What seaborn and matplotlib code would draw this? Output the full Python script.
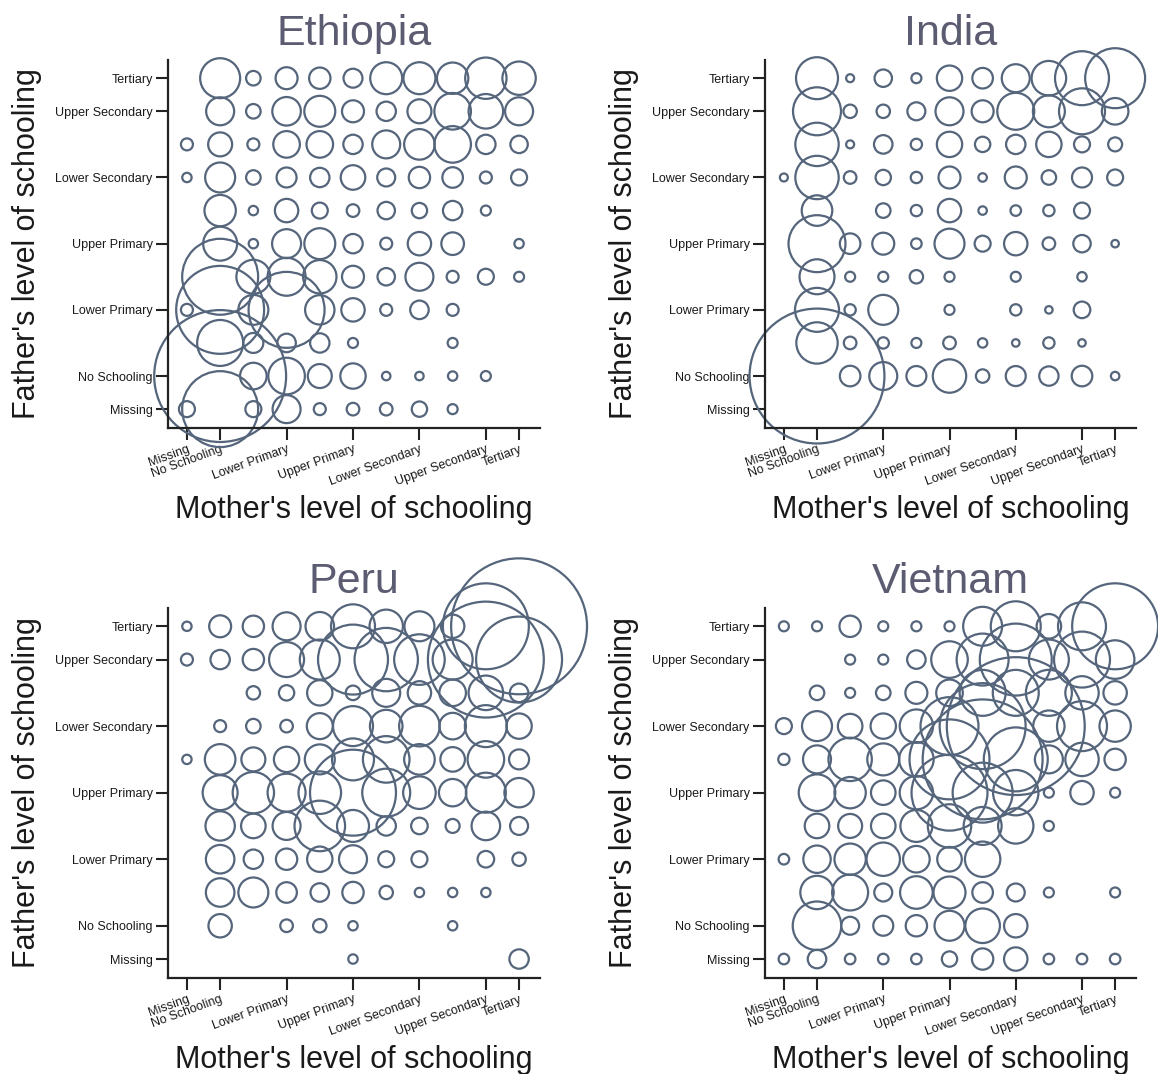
import matplotlib
matplotlib.use("Agg")
import matplotlib.pyplot as plt
import numpy as np
import pandas as pd
import seaborn as sns

# ---------------- data ----------------
levels = ["Missing", "No Schooling", "Lower Primary", "Upper Primary",
          "Lower Secondary", "Upper Secondary", "Tertiary"]
level_pos = [0, 1, 3, 5, 7, 9, 10]

countries = ["Ethiopia", "India", "Peru", "Vietnam"]

# share of children (relative, bubble area) ; rows: father's level from 10 (Tertiary) down to 0 (Missing)
# columns: mother's level 0 (Missing) .. 10 (Tertiary)
ethiopia = [
    [0, 4.00, 0.53, 1.21, 1.14, 0.90, 2.56, 2.56, 2.46, 4.28, 2.79],
    [0, 1.96, 0.53, 2.04, 2.40, 1.21, 0.94, 1.44, 3.35, 2.99, 1.96],
    [0.36, 1.44, 0.36, 1.77, 1.77, 0.94, 1.96, 2.34, 3.35, 0.94, 0.76],
    [0.22, 2.25, 0.53, 1.00, 0.94, 1.51, 0.81, 1.14, 1.06, 0.36, 0.64],
    [0, 2.46, 0.22, 1.37, 0.64, 0.40, 0.76, 0.59, 0.94, 0.25, 0],
    [0, 2.89, 0.22, 2.10, 2.40, 0.94, 0.36, 1.37, 1.28, 0, 0.22],
    [0, 14.44, 2.89, 3.61, 2.79, 1.21, 0.76, 1.96, 0.36, 0.64, 0.25],
    [0.36, 19.36, 2.25, 14.44, 2.16, 1.37, 0.36, 0.86, 0.36, 0, 0],
    [0, 5.29, 1.00, 0.86, 0.94, 0.25, 0, 0, 0.25, 0, 0],
    [0, 43.56, 1.77, 3.35, 1.44, 1.61, 0.18, 0.18, 0.22, 0.25, 0],
    [0.64, 14.44, 0.64, 1.96, 0.36, 0.40, 0.40, 0.59, 0.25, 0, 0],
]
india = [
    [0, 4.41, 0.16, 0.76, 0.25, 1.61, 1.06, 1.96, 2.99, 7.29, 9.00],
    [0, 5.76, 0.45, 0.45, 0.81, 1.96, 1.21, 3.42, 2.56, 5.29, 1.77],
    [0, 4.71, 0.16, 0.86, 0.32, 1.61, 0.59, 0.94, 1.61, 0.64, 0.49],
    [0.16, 4.71, 0.40, 0.59, 0.32, 1.21, 0.18, 1.21, 0.53, 1.00, 0.64],
    [0, 2.34, 0, 0.53, 0.32, 1.37, 0.18, 0.28, 0.32, 0.64, 0],
    [0, 8.12, 1.06, 1.21, 0.28, 2.25, 0.64, 1.37, 0.40, 0.76, 0.14],
    [0, 3.06, 0.25, 0.25, 0.45, 0.25, 0, 0.25, 0, 0.22, 0],
    [0, 4.84, 0.32, 2.25, 0, 0.25, 0, 0.32, 0.14, 0.69, 0],
    [0, 4.28, 0.40, 0.32, 0.25, 0.40, 0.22, 0.14, 0.32, 0.14, 0],
    [0, 45.56, 1.06, 1.96, 1.00, 2.79, 0.45, 1.00, 0.94, 1.06, 0.18],
    [0, 0, 0, 0, 0, 0, 0, 0, 0, 0, 0],
]
peru = [
    [0.22, 1.21, 1.14, 1.96, 2.04, 4.84, 2.79, 2.25, 1.37, 18.49, 46.24],
    [0.36, 0.94, 1.14, 3.06, 4.00, 12.25, 10.05, 6.40, 4.00, 33.64, 18.49],
    [0, 0, 0.45, 0.59, 1.61, 0.53, 1.96, 1.37, 1.77, 2.99, 0.86],
    [0, 0.36, 0.53, 0.40, 1.69, 4.00, 2.66, 4.12, 1.77, 4.41, 1.61],
    [0.22, 2.34, 1.44, 1.61, 2.25, 4.41, 5.43, 2.34, 1.51, 3.35, 1.00],
    [0, 3.06, 4.28, 3.61, 4.54, 18.49, 5.76, 2.66, 1.88, 4.00, 2.16],
    [0, 2.16, 1.51, 1.96, 6.40, 2.56, 0.94, 0.69, 0.49, 2.04, 0.81],
    [0, 2.04, 0.94, 1.14, 1.61, 1.96, 0.64, 0.64, 0, 0.69, 0.45],
    [0, 2.04, 2.25, 1.06, 0.86, 1.14, 0.45, 0.22, 0.22, 0.22, 0],
    [0, 1.37, 0, 0.40, 0.45, 0.22, 0, 0, 0.22, 0, 0],
    [0, 0, 0, 0, 0, 0.22, 0, 0, 0, 0, 0.94],
]
vietnam = [
    [0.25, 0.25, 1.14, 0.25, 0.25, 0.25, 3.80, 6.25, 1.51, 5.76, 18.49],
    [0, 0, 0.25, 0.25, 0.86, 3.35, 6.76, 12.96, 4.00, 7.84, 3.72],
    [0, 0.53, 0.25, 0.53, 1.21, 1.77, 5.29, 5.29, 5.29, 2.79, 1.37],
    [0.64, 2.25, 1.51, 1.61, 2.79, 8.41, 18.49, 47.61, 2.46, 6.25, 2.46],
    [0.32, 1.96, 4.71, 2.56, 2.99, 16.00, 36.00, 10.24, 1.96, 2.79, 1.14],
    [0, 3.35, 2.46, 1.51, 2.79, 14.44, 9.00, 5.15, 0.25, 1.37, 0.25],
    [0, 1.51, 1.44, 1.51, 2.56, 4.71, 3.61, 3.13, 0.25, 0, 0],
    [0.28, 1.88, 2.46, 2.79, 1.77, 1.51, 3.13, 0, 0, 0, 0],
    [0, 2.79, 3.24, 0.81, 2.66, 2.56, 1.06, 0.81, 0.25, 0, 0.25],
    [0, 5.90, 0.81, 1.00, 1.14, 2.25, 2.99, 1.37, 0, 0, 0],
    [0.28, 0.86, 0.28, 0.28, 0.28, 0.59, 1.14, 1.37, 0.28, 0.28, 0.28],
]
grids = [ethiopia, india, peru, vietnam]

# ---------------- long table ----------------
records = []
for name, grid in zip(countries, grids):
    for r_i, row in enumerate(grid):
        father = 10 - r_i
        for mother, v in enumerate(row):
            if v > 0:
                records.append((name, mother, father, v))
df = pd.DataFrame(records, columns=["country", "mother", "father", "share"])

# ---------------- style ----------------
sns.set_style("ticks")
plt.rcParams["font.family"] = ["Liberation Sans", "DejaVu Sans"]

EDGE = "#55657b"
TITLE_C = "#5b5b72"
TEXT_C = "#1a1a1a"
VMAX = 50.0
S_PER_UNIT = 207.0  # marker area (pt^2) per unit share

W, H = 1158, 1074
fig = plt.figure(figsize=(W / 100, H / 100), dpi=100)

# axes boxes in pixels: left, top, right, bottom
boxes = [(168, 60, 540, 428), (765, 60, 1136, 428),
         (168, 608, 540, 978), (765, 608, 1136, 978)]
ylabel_x = [27, 624, 27, 624]

for name, (l, t, r, b), yx in zip(countries, boxes, ylabel_x):
    ax = fig.add_axes([l / W, 1 - b / H, (r - l) / W, (b - t) / H])
    sub = df[df["country"] == name]
    sns.scatterplot(data=sub, x="mother", y="father", size="share",
                    sizes=(0, S_PER_UNIT * VMAX), size_norm=(0, VMAX),
                    legend=False, ax=ax, color=EDGE, linewidth=1.6)
    for coll in ax.collections:
        coll.set_facecolor("none")
        coll.set_edgecolor(EDGE)
        coll.set_linewidth(1.6)
        coll.set_clip_on(False)
    ax.set_xlim(-0.57, 10.63)
    ax.set_ylim(-0.57, 10.55)
    ax.set_xticks(level_pos)
    ax.set_xticklabels(levels, rotation=20, ha="right", rotation_mode="anchor",
                       fontsize=9, color=TEXT_C)
    ax.set_yticks(level_pos)
    ax.set_yticklabels(levels, fontsize=9, color=TEXT_C)
    ax.tick_params(axis="both", length=8.5, width=1.5, color="#222222", pad=2.5)
    for s in ["left", "bottom"]:
        ax.spines[s].set_linewidth(1.6)
        ax.spines[s].set_color("#222222")
    sns.despine(ax=ax)
    ax.set_title(name, fontsize=31, color=TITLE_C, pad=11)
    ax.set_xlabel("Mother's level of schooling", fontsize=22, color=TEXT_C, va="center")
    ax.xaxis.set_label_coords(0.5, -(510 - 428) / (b - t))
    ax.set_ylabel("Father's level of schooling", fontsize=22, color=TEXT_C, va="center")
    ax.yaxis.set_label_coords(-(l - yx) / (r - l), 0.5)

fig.savefig("out.png", dpi=100)
